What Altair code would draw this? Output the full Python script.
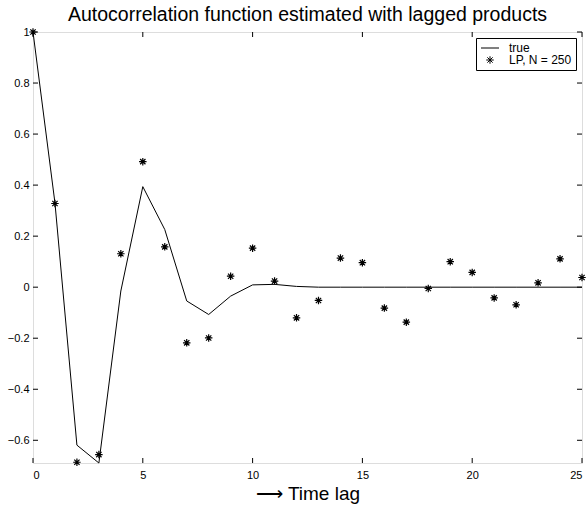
import altair as alt
import pandas as pd

lags = list(range(26))
true_acf = [1.0, 0.33, -0.619, -0.689, -0.015, 0.394, 0.226, -0.054, -0.107, -0.035,
            0.009, 0.011, 0.003, 0.0, 0.0, 0.0, 0.0, 0.0, 0.0, 0.0,
            0.0, 0.0, 0.0, 0.0, 0.0, 0.0]
lp_acf = [1.0, 0.328, -0.686, -0.656, 0.131, 0.492, 0.158, -0.218, -0.199, 0.043,
          0.153, 0.024, -0.120, -0.052, 0.114, 0.096, -0.082, -0.137, -0.005, 0.100,
          0.058, -0.042, -0.069, 0.017, 0.111, 0.038]
series_names = ["true", "LP, N = 250"]
x_ticks = [0, 5, 10, 15, 20, 25]
y_ticks = [-0.6, -0.4, -0.2, 0, 0.2, 0.4, 0.6, 0.8, 1]

W, H = 549, 431
FONT = "Liberation Sans"

df_true = pd.DataFrame({"lag": lags, "acf": true_acf, "series": series_names[0]})
df_lp = pd.DataFrame({"lag": lags, "acf": lp_acf, "series": series_names[1]})
df_xt = pd.DataFrame({"lag": x_ticks})
df_yt = pd.DataFrame({"acf": y_ticks})

xscale = alt.Scale(domain=[0, 25], nice=False)
yscale = alt.Scale(domain=[-0.689, 1], nice=False, zero=False)

LINE_PATH = "M-1.8,0L1.8,0"
STAR_PATH = ("M-0.75,0L0.75,0M0,-0.75L0,0.75"
             "M-0.53,-0.53L0.53,0.53M-0.53,0.53L0.53,-0.53")
SYM_SIZE = 100

xaxis = alt.Axis(values=x_ticks, format="d", grid=False, ticks=False, domain=False,
                 labelFontSize=11, labelPadding=6, labelFont=FONT, labelColor="black",
                 title="\u27f6 Time lag", titleFontSize=19, titleFont=FONT,
                 titleColor="black", titleFontWeight="normal", titlePadding=4)
yaxis = alt.Axis(values=y_ticks, format="~g", grid=False, ticks=False, domain=False,
                 labelFontSize=11, labelPadding=4, labelFont=FONT, labelColor="black",
                 title=None)

X = alt.X("lag:Q", scale=xscale, axis=xaxis)
Y = alt.Y("acf:Q", scale=yscale, axis=yaxis)

line = alt.Chart(df_true).mark_line(color="black", strokeWidth=1).encode(x=X, y=Y)

points = alt.Chart(df_lp).mark_point(filled=False, stroke="black", strokeWidth=1.2,
                                     size=SYM_SIZE, opacity=1, clip=False).encode(
    x=X, y=Y,
    shape=alt.Shape("series:N",
                    scale=alt.Scale(domain=series_names, range=[LINE_PATH, STAR_PATH]),
                    legend=alt.Legend(title=None, orient="top-right", offset=6,
                                      strokeColor="black", fillColor="white",
                                      padding=4, rowPadding=0,
                                      labelFont=FONT, labelFontSize=12, labelColor="black",
                                      symbolSize=SYM_SIZE, symbolStrokeColor="black",
                                      symbolStrokeWidth=1, symbolOffset=4,
                                      labelOffset=13)),
)

tick_len = 5
top_ticks = alt.Chart(df_xt).mark_rule(color="black", strokeWidth=1).encode(
    x=X, y=alt.value(0), y2=alt.value(tick_len))
bot_ticks = alt.Chart(df_xt).mark_rule(color="black", strokeWidth=1).encode(
    x=X, y=alt.value(H - tick_len), y2=alt.value(H))
left_ticks = alt.Chart(df_yt).mark_rule(color="black", strokeWidth=1).encode(
    y=Y, x=alt.value(0), x2=alt.value(tick_len))
right_ticks = alt.Chart(df_yt).mark_rule(color="black", strokeWidth=1).encode(
    y=Y, x=alt.value(W - tick_len), x2=alt.value(W))

chart = alt.layer(line, points, top_ticks, bot_ticks, left_ticks, right_ticks).properties(
    width=W, height=H,
    title=alt.Title("Autocorrelation function estimated with lagged products",
                    font=FONT, fontSize=19.5, fontWeight="normal", anchor="middle",
                    offset=0, color="black"),
    autosize=alt.AutoSizeParams(type="none"),
    padding={"left": 33, "top": 32, "right": 5, "bottom": 45},
).configure_view(stroke="black", strokeWidth=1).configure(background="white")

chart.save("out.html", embed_options={"renderer": "svg", "actions": False})
